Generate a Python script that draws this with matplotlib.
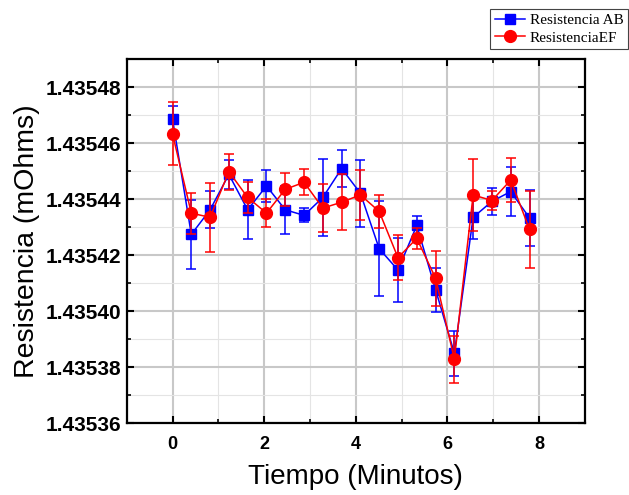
import matplotlib
matplotlib.use("Agg")
import matplotlib.pyplot as plt
from matplotlib.lines import Line2D
from matplotlib.ticker import MultipleLocator, FormatStrFormatter

# Resistencia medida cada ~0.41 min, con su desviación
tiempo = [0.0, 0.41, 0.82, 1.23, 1.64, 2.05, 2.46, 2.87, 3.28, 3.69,
          4.10, 4.51, 4.92, 5.33, 5.74, 6.15, 6.56, 6.97, 7.38, 7.79]

res_ab = [1.4354686, 1.4354274, 1.4354362, 1.4354488, 1.4354362,
          1.4354447, 1.4354362, 1.4354342, 1.4354406, 1.4354509,
          1.4354421, 1.4354223, 1.4354147, 1.4354306, 1.4354077,
          1.4353850, 1.4354335, 1.4354392, 1.4354427, 1.4354333]
err_ab = [4.7e-6, 1.23e-5, 6.6e-6, 5.2e-6, 1.06e-5, 5.7e-6, 8.5e-6, 2.5e-6, 1.38e-5, 6.7e-6,
          1.2e-5, 1.7e-5, 1.13e-5, 3.5e-6, 7.8e-6, 8.0e-6, 7.7e-6, 4.7e-6, 8.7e-6, 9.9e-6]

res_ef = [1.4354633, 1.4354350, 1.4354335, 1.4354498, 1.4354406,
          1.4354350, 1.4354435, 1.4354460, 1.4354368, 1.4354389,
          1.4354415, 1.4354356, 1.4354191, 1.4354260, 1.4354118,
          1.4353829, 1.4354415, 1.4354395, 1.4354468, 1.4354292]
err_ef = [1.13e-5, 7.3e-6, 1.24e-5, 6.4e-6, 5.5e-6, 4.9e-6, 6.0e-6, 4.6e-6, 8.5e-6, 9.9e-6,
          8.8e-6, 5.9e-6, 8.1e-6, 3.7e-6, 9.8e-6, 8.4e-6, 1.27e-5, 3.5e-6, 7.8e-6, 1.38e-5]

plt.rcParams['font.family'] = ['Liberation Sans', 'DejaVu Sans']

fig = plt.figure(figsize=(6.29, 4.95), dpi=100)
ax = fig.add_axes([0.2014, 0.1448, 0.7286, 0.736])

# Series con barras de error
estilo_ab = dict(color='#0000ff', marker='s', markersize=7, linewidth=1.1)
estilo_ef = dict(color='#ff0000', marker='o', markersize=8.5, linewidth=1.1)
ax.errorbar(tiempo, res_ab, yerr=err_ab, elinewidth=1.1, capsize=3.5, capthick=1.1,
            zorder=3, **estilo_ab)
ax.errorbar(tiempo, res_ef, yerr=err_ef, elinewidth=1.1, capsize=3.5, capthick=1.1,
            zorder=4, **estilo_ef)

# Ejes
ax.set_xlim(-1, 9)
ax.set_ylim(1.43536, 1.43549)
ax.xaxis.set_major_locator(MultipleLocator(2))
ax.xaxis.set_minor_locator(MultipleLocator(1))
ax.yaxis.set_major_locator(MultipleLocator(0.00002))
ax.yaxis.set_minor_locator(MultipleLocator(0.00001))
ax.yaxis.set_major_formatter(FormatStrFormatter('%.5f'))

ax.grid(which='major', color='#c8c8c8', linewidth=1.5, zorder=0)
ax.grid(which='minor', color='#e4e4e4', linewidth=0.8, zorder=0)
ax.set_axisbelow(True)

for s in ax.spines.values():
    s.set_linewidth(1.6)
ax.tick_params(which='both', direction='in', top=True, right=True)
ax.tick_params(which='major', length=5, width=1.5)
ax.tick_params(which='minor', length=3, width=1.2)
ax.tick_params(axis='x', pad=9, labelsize=13)
ax.tick_params(axis='y', pad=4, labelsize=15)
for lbl in ax.get_xticklabels() + ax.get_yticklabels():
    lbl.set_fontweight('bold')

ax.set_xlabel('Tiempo (Minutos)', fontsize=20, labelpad=8)
ax.set_ylabel('Resistencia (mOhms)', fontsize=20.5, labelpad=4)

# Leyenda fuera del área de trazado
handles = [Line2D([], [], **estilo_ab), Line2D([], [], **estilo_ef)]
leg = fig.legend(handles, ['Resistencia AB', 'ResistenciaEF'], loc='upper left',
                 bbox_to_anchor=(490 / 629, 1 - 9 / 495), borderaxespad=0,
                 fancybox=False, framealpha=1, edgecolor='#444444',
                 prop={'family': 'Liberation Serif', 'size': 11}, handlelength=2.0,
                 handletextpad=0.3, borderpad=0.3, labelspacing=0.25)
leg.get_frame().set_linewidth(0.8)

plt.savefig('out.png', dpi=100)
